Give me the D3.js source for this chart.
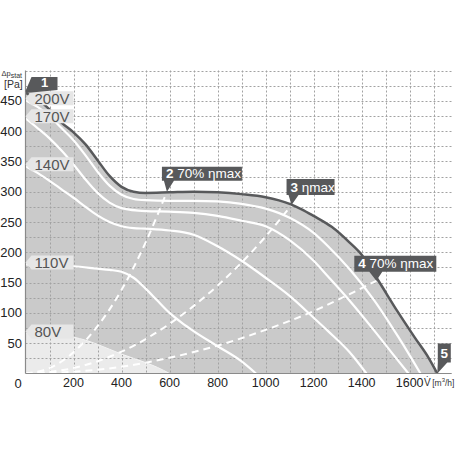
<!DOCTYPE html>
<html><head><meta charset="utf-8">
<script src="https://cdn.jsdelivr.net/npm/d3@7"></script>
<style>
html,body{margin:0;padding:0;background:#fff;}
svg{display:block;font-family:"Liberation Sans",Arial,sans-serif;}
</style></head>
<body>
<svg id="c" width="458" height="458"></svg>
<script>
// ---------- data ----------
const flowTicks = [200, 400, 600, 800, 1000, 1200, 1400, 1600];
const pressTicks = [50, 100, 150, 200, 250, 300, 350, 400, 450];
// outer envelope (dark line)
const curveMax = [[0,463],[50,452],[100,436],[150,414],[200,398],[250,378],[300,352],[350,326],[400,308],[450,300],[500,298],[600,299],[700,300],[800,299],[900,296],[1000,291],[1100,280],[1150,271],[1200,260],[1275,242],[1350,216],[1400,196],[1470,153],[1550,102],[1620,60],[1680,25],[1715,0]];
const curve200 = [[0,451],[50,440],[100,425],[150,405],[200,385],[250,360],[300,333],[350,310],[400,295],[450,288],[500,286],[600,285],[700,285],[800,284],[900,280],[1000,272],[1100,257],[1200,232],[1260,210],[1350,172],[1450,122],[1550,62],[1600,30],[1645,0]];
const curve170 = [[0,421],[50,405],[100,388],[150,368],[200,345],[250,320],[300,298],[350,282],[400,273],[500,268],[600,267],[700,265],[800,260],[900,252],[1000,243],[1100,220],[1200,186],[1260,160],[1350,120],[1450,72],[1530,32],[1595,0]];
const curve140 = [[0,342],[50,331],[100,318],[150,304],[200,290],[250,275],[300,261],[350,250],[400,243],[450,240],[500,239],[600,236],[700,229],[800,210],[900,186],[1000,158],[1100,128],[1200,92],[1260,70],[1350,35],[1420,0]];
const curve110 = [[0,180],[100,179],[200,177],[300,173],[350,171],[400,168],[450,158],[500,140],[550,120],[600,100],[650,84],[700,70],[800,45],[900,20],[960,0]];
const curve80 = [[0,66],[150,64],[200,60],[250,55],[300,48],[350,40],[400,32],[450,25],[500,18],[550,10],[600,0]];
// efficiency lines (dashed)
const eff70a = [[0,0],[100,9],[200,35],[300,78],[400,138],[500,216],[589,300]];
const effMax = [[0,0],[200,9],[400,36],[600,82],[800,145],[1000,226],[1108,278]];
const eff70b = [[0,0],[200,3],[400,11],[600,26],[800,46],[1000,72],[1200,103],[1350,131],[1461,153]];
const voltLabels = ["200V", "170V", "140V", "110V", "80V"];
const pointNums = ["1", "2", "3", "4", "5"];
const pointTexts = ["", " 70% ηmax", " ηmax", " 70% ηmax", ""];

// ---------- drawing ----------
const svg = d3.select("#c");
const x = d3.scaleLinear().domain([0, 1775]).range([25.5, 451.7]);
const y = d3.scaleLinear().domain([0, 500]).range([373.5, 70.5]);
const line = d3.line().x(d => x(d[0])).y(d => y(d[1])).curve(d3.curveMonotoneX);
const area = d3.area().x(d => x(d[0])).y0(y(0)).y1(d => y(d[1])).curve(d3.curveMonotoneX);

// fills
svg.append("path").attr("d", area(curveMax)).attr("fill", "#cacaca");
svg.append("path").attr("d", area(curve80)).attr("fill", "#ebebeb");

// grid
const grid = svg.append("g").attr("stroke", "#a2a2a2").attr("stroke-width", 1).attr("stroke-dasharray", "2,2");
d3.range(100, 1701, 100).forEach(v => {
  grid.append("line").attr("x1", Math.round(x(v)) + 0.5).attr("x2", Math.round(x(v)) + 0.5).attr("y1", y(500)).attr("y2", y(0));
});
d3.range(25, 501, 25).forEach(p => {
  grid.append("line").attr("x1", x(0)).attr("x2", x(1775)).attr("y1", Math.round(y(p)) + 0.5).attr("y2", Math.round(y(p)) + 0.5);
});

// dashed efficiency lines
[eff70a, effMax, eff70b].forEach(c => {
  svg.append("path").attr("d", line(c)).attr("fill", "none").attr("stroke", "#fff")
    .attr("stroke-width", 2).attr("stroke-dasharray", "7,5");
});
// speed curves
[curve200, curve170, curve140, curve110].forEach(c => {
  svg.append("path").attr("d", line(c)).attr("fill", "none").attr("stroke", "#fff").attr("stroke-width", 2.2);
});
svg.append("path").attr("d", line(curve80)).attr("fill", "none").attr("stroke", "#f4f4f4").attr("stroke-width", 1);
// envelope
svg.append("path").attr("d", line(curveMax)).attr("fill", "none").attr("stroke", "#58595b").attr("stroke-width", 2.5);

// axes lines
svg.append("line").attr("x1", x(0)).attr("x2", x(0)).attr("y1", y(500)).attr("y2", y(0)).attr("stroke", "#8a8a8a").attr("stroke-width", 1.2);
svg.append("line").attr("x1", x(0)).attr("x2", x(1775)).attr("y1", y(0)).attr("y2", y(0)).attr("stroke", "#8a8a8a").attr("stroke-width", 1.2);

// tick labels
svg.append("g").selectAll("text").data(pressTicks).join("text")
  .attr("x", 22).attr("y", d => y(d) + 4.5).attr("text-anchor", "end")
  .attr("font-size", 13).attr("fill", "#222").text(d => d);
svg.append("g").selectAll("text").data(flowTicks).join("text")
  .attr("x", d => x(d)).attr("y", 386.5).attr("text-anchor", "middle")
  .attr("font-size", 12.5).attr("fill", "#222").text(d => d);
svg.append("text").attr("x", 18).attr("y", 388).attr("text-anchor", "middle")
  .attr("font-size", 13).attr("fill", "#222").text("0");

// axis titles
const yt = svg.append("text").attr("x", 1.5).attr("y", 76).attr("font-size", 7.5).attr("fill", "#333");
yt.append("tspan").text("Δp");
yt.append("tspan").attr("font-size", 7).attr("dy", 1.5).text("stat");
svg.append("text").attr("x", 4).attr("y", 88).attr("font-size", 10.5).attr("fill", "#333").text("[Pa]");
const xt = svg.append("text").attr("x", 424).attr("y", 386).attr("font-size", 10).attr("fill", "#333");
xt.append("tspan").attr("font-size", 10).text("V\u0307");
xt.append("tspan").attr("font-size", 8.5).attr("dx", 1.5).text("[m");
xt.append("tspan").attr("font-size", 6).attr("dy", -4).text("3");
xt.append("tspan").attr("font-size", 8.5).attr("dy", 4).text("/h]");

// voltage tags
[curve200, curve170, curve140, curve110, curve80].forEach((c, i) => {
  const cy = y(c[0][1]) - 2;
  const x0 = x(0);
  const g = svg.append("g");
  g.append("path").attr("d", `M${x0},${cy} L${x0 + 6},${cy - 7} L${x0 + 48},${cy - 7} L${x0 + 48},${cy + 7} L${x0 + 6},${cy + 7} Z`)
    .attr("fill", "#e6e6e6");
  g.append("text").attr("x", x0 + 9).attr("y", cy + 5.5).attr("font-size", 15).attr("fill", "#555").text(voltLabels[i]);
});

// operating point callouts
const tips = [curveMax[0], eff70a[eff70a.length - 1], effMax[effMax.length - 1], eff70b[eff70b.length - 1], curveMax[curveMax.length - 1]];
// layout: box left offset from tip, width, height, gap from tip to box bottom, pointer base offsets
const lay = [
  {dx: 6, w: 26, h: 13, gap: 3, pb: null},
  {dx: -5, w: 80, h: 14, gap: 11, pb: [-3, 7]},
  {dx: -5, w: 48, h: 16, gap: 10, pb: [-3, 7]},
  {dx: -22, w: 82, h: 16, gap: 9, pb: [-7, 6]},
  {dx: 0.5, w: 13, h: 19, gap: 11, pb: [0.5, 10]}
];
tips.forEach((t, i) => {
  const tx = x(t[0]), ty = y(t[1]);
  const L = lay[i];
  const bx = tx + L.dx, bb = ty - L.gap, bt = bb - L.h;
  const g = svg.append("g");
  let d;
  if (i === 0) {
    d = `M${bx},${bt} L${bx + L.w},${bt} L${bx + L.w},${bb} L${tx + 1},${bb + 3} L${tx},${bb + 1} Z`;
  } else {
    d = `M${bx},${bt} L${bx + L.w},${bt} L${bx + L.w},${bb} L${tx + L.pb[1]},${bb} L${tx},${ty} L${tx + L.pb[0]},${bb} L${bx},${bb} Z`;
  }
  g.append("path").attr("d", d).attr("fill", "#58595b");
  const txt = g.append("text").attr("fill", "#fff").attr("font-size", i === 0 ? 13 : 13.5)
    .attr("x", i === 0 || i === 4 ? bx + L.w / 2 : bx + 4)
    .attr("y", i === 0 ? bb - 2.5 : bb - (L.h - 10) / 2 - 0.5)
    .attr("text-anchor", i === 0 || i === 4 ? "middle" : "start");
  txt.append("tspan").attr("font-weight", "bold").text(pointNums[i]);
  if (pointTexts[i]) txt.append("tspan").text(pointTexts[i]);
});
</script>
</body></html>
